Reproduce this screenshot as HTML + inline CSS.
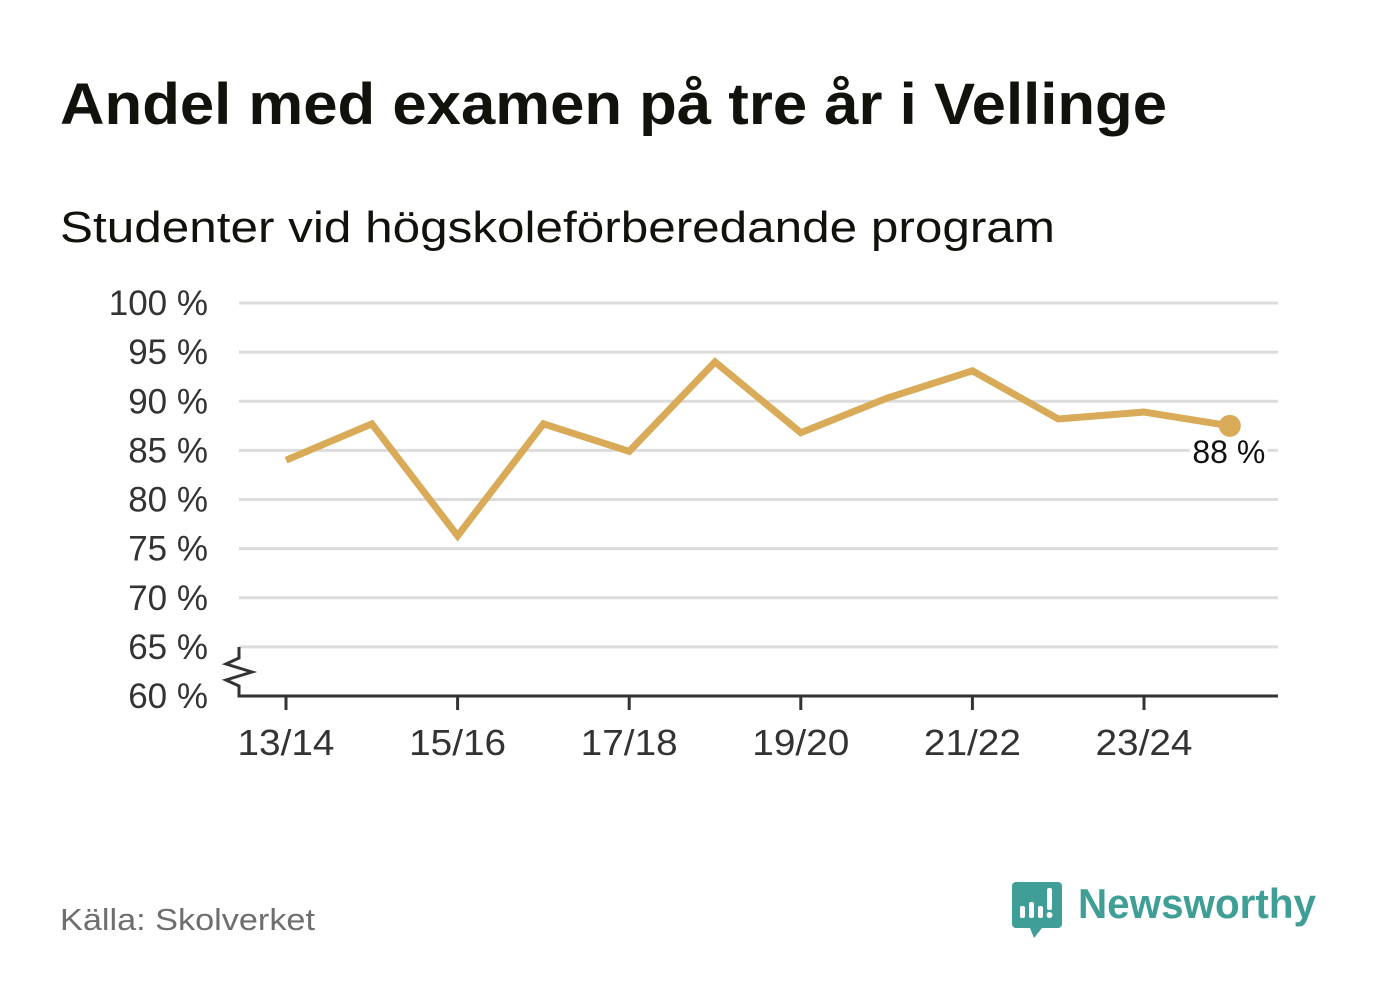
<!DOCTYPE html>
<html><head><meta charset="utf-8"><style>
body{margin:0;background:#fff;}
svg{display:block;font-family:"Liberation Sans","DejaVu Sans",sans-serif;}
</style></head><body>
<svg id="chart" width="1382" height="999" viewBox="0 0 1382 999">
<text x="60" y="124" font-size="58" font-weight="bold" fill="#12120c" textLength="1107" lengthAdjust="spacingAndGlyphs">Andel med examen på tre år i Vellinge</text>
<text x="60" y="242" font-size="44" fill="#12120c" textLength="995" lengthAdjust="spacingAndGlyphs">Studenter vid högskoleförberedande program</text>
<g id="grid"></g>
<g id="yticks"></g>
<g id="xticks"></g>
<path d="M239 647 L239 658 L226 664 L252 672 L226 680 L239 686 L239 696 L1278 696" fill="none" stroke="#333" stroke-width="3"/>
<g id="series"></g>
<text x="60" y="930" font-size="31" fill="#6e6e6e" textLength="255" lengthAdjust="spacingAndGlyphs">Källa: Skolverket</text>
<g>
<path d="M1016 882 h42 a4 4 0 0 1 4 4 v38 a4 4 0 0 1 -4 4 h-16 l-8 10 l-4 -10 h-14 a4 4 0 0 1 -4 -4 v-38 a4 4 0 0 1 4 -4z" fill="#3f9e96"/>
<rect x="1020" y="906" width="5" height="12" rx="2" fill="#fff"/>
<rect x="1029" y="902" width="5" height="16" rx="2" fill="#fff"/>
<rect x="1038" y="906" width="5" height="12" rx="2" fill="#fff"/>
<rect x="1047" y="888" width="5" height="22" rx="2" fill="#fff"/>
<circle cx="1049.5" cy="915" r="3" fill="#fff"/>
<text x="1078" y="918" font-size="42" font-weight="bold" fill="#3f9e96" textLength="238" lengthAdjust="spacingAndGlyphs">Newsworthy</text>
</g>
</svg>
<script>
const categories = ["13/14","14/15","15/16","16/17","17/18","18/19","19/20","20/21","21/22","22/23","23/24","24/25"];
const values = [84.0,87.7,76.3,87.7,84.9,94.0,86.8,90.3,93.1,88.2,88.9,87.5];
const yTicks = [60,65,70,75,80,85,90,95,100];
const xLabels = ["13/14","15/16","17/18","19/20","21/22","23/24"];
const lastLabel = "88 %";
const NS = "http://www.w3.org/2000/svg";
const x = i => 286 + i * 85.8;
const y = v => 696 - (v - 60) * (393 / 40);
function mk(tag, attrs, parent, txt){const e=document.createElementNS(NS,tag);for(const k in attrs)e.setAttribute(k,attrs[k]);if(txt!==undefined)e.textContent=txt;parent.appendChild(e);return e;}
const grid=document.getElementById('grid'), yt=document.getElementById('yticks'), xt=document.getElementById('xticks'), s=document.getElementById('series');
yTicks.forEach(t=>{
  if(t>60){const l=mk('line',{x1:239,x2:1278,y1:y(t),y2:y(t),stroke:'#dcdcdc','stroke-width':3},grid);
  
  }
  const tx=mk('text',{x:208,y:y(t)+12,'font-size':35,fill:'#333','text-anchor':'end'},yt,t+' %');
  
  
});
xLabels.forEach(lb=>{
  const i=categories.indexOf(lb);
  mk('line',{x1:x(i),x2:x(i),y1:696,y2:710,stroke:'#333','stroke-width':3},xt);
  const tx=mk('text',{x:x(i),y:755,'font-size':36,fill:'#333','text-anchor':'middle',textLength:97,lengthAdjust:'spacingAndGlyphs'},xt,lb);
  
  
});
const p=mk('polyline',{points:values.map((v,i)=>x(i)+','+y(v)).join(' '),fill:'none',stroke:'#d9ab58','stroke-width':7,'stroke-linejoin':'miter'},s);


const li=values.length-1;
const c=mk('circle',{cx:x(li),cy:y(values[li]),r:11,fill:'#d9ab58'},s);


mk('rect',{x:x(li)-40,y:y(values[li])+12,width:78,height:30,fill:'#fff'},s);
const lt=mk('text',{x:x(li)-1,y:y(values[li])+37,'font-size':32,fill:'#111','text-anchor':'middle'},s,lastLabel);


</script>
</body></html>
